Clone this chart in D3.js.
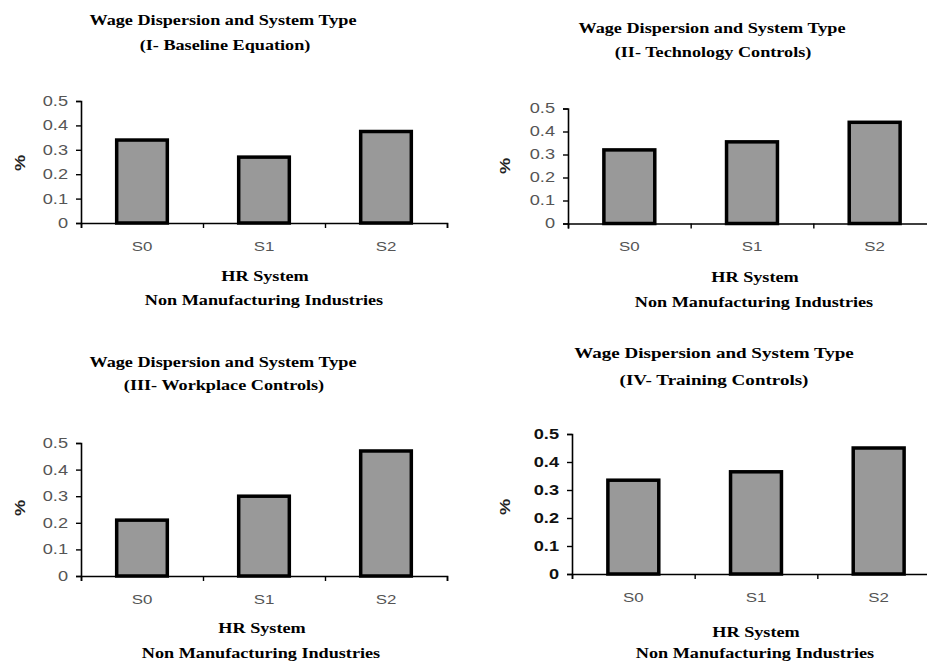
<!DOCTYPE html>
<html>
<head>
<meta charset="utf-8">
<script src="https://cdn.jsdelivr.net/npm/d3@7"></script>
<style>
  html, body { margin: 0; padding: 0; background: #fff; }
  svg { display: block; }
</style>
</head>
<body>
<svg id="chart" width="927" height="662"></svg>
<script>
// ---- data ----
const categories = ["S0", "S1", "S2"];
const valuesI   = [0.34, 0.27, 0.375];
const valuesII  = [0.32, 0.355, 0.44];
const valuesIII = [0.21, 0.30, 0.47];
const valuesIV  = [0.335, 0.365, 0.45];
const yTicks = [0, 0.1, 0.2, 0.3, 0.4, 0.5];
const titleMain = "Wage Dispersion and System Type";
const subtitles = ["(I- Baseline Equation)", "(II- Technology Controls)", "(III- Workplace Controls)", "(IV- Training Controls)"];
const xTitle1 = "HR System";
const xTitle2 = "Non Manufacturing Industries";
const yTitle = "%";

// ---- layout (positions only) ----
const panels = [
  { values: valuesI,   sub: subtitles[0], x0: 81,  x1: 447, yTop: 101,   yBot: 223,
    t1: [223, 20], t2: [225, 45], h1: [265, 276], h2: [264, 300], pc: [20, 163], boldTicks: false, tScale: 1.3 },
  { values: valuesII,  sub: subtitles[1], x0: 568, x1: 936, yTop: 108.5, yBot: 223.5,
    t1: [712, 28], t2: [713, 52], h1: [755, 277], h2: [754, 302], pc: [505, 166], boldTicks: false, tScale: 1.3 },
  { values: valuesIII, sub: subtitles[2], x0: 81,  x1: 447, yTop: 443,   yBot: 576,
    t1: [223, 362], t2: [224, 385], h1: [262, 628], h2: [261, 653], pc: [20, 508], boldTicks: false, tScale: 1.3 },
  { values: valuesIV,  sub: subtitles[3], x0: 572, x1: 940, yTop: 434,   yBot: 574,
    t1: [714, 353], t2: [714, 380], h1: [756, 632], h2: [755, 653], pc: [505, 507], boldTicks: true, tScale: 1.36 }
];

const STRETCH = 1.3;
const svg = d3.select("#chart");

function label(g, text, pos, opts) {
  const s = opts.stretch || STRETCH;
  const t = g.append("text")
    .attr("x", 0).attr("y", 0)
    .attr("dy", "0.35em")
    .attr("text-anchor", "middle")
    .attr("font-family", opts.family || "'Liberation Serif', 'Times New Roman', serif")
    .attr("font-weight", opts.weight || "bold")
    .attr("font-size", opts.size || 14)
    .attr("fill", opts.fill || "#000")
    .attr("transform", `translate(${pos[0]},${pos[1]})` + (opts.rotate ? " rotate(-90)" : "") + ` scale(${s},1)`)
    .text(text);
  return t;
}

panels.forEach(p => {
  const g = svg.append("g");
  const y = d3.scaleLinear().domain([0, 0.5]).range([p.yBot, p.yTop]);
  const x = d3.scaleBand().domain(categories).range([p.x0, p.x1])
    .paddingInner(0.585).paddingOuter(0.2925);
  const xb = d3.scaleLinear().domain([0, categories.length]).range([p.x0, p.x1]);

  // bars
  g.selectAll("rect.bar").data(p.values).join("rect")
    .attr("class", "bar")
    .attr("x", (d, i) => x(categories[i]))
    .attr("width", x.bandwidth())
    .attr("y", d => y(d))
    .attr("height", d => y(0) - y(d))
    .attr("fill", "#999999")
    .attr("stroke", "#000")
    .attr("stroke-width", 3.5);

  // y axis
  const ya = g.append("g")
    .attr("transform", `translate(${p.x0},0)`)
    .call(d3.axisLeft(y).tickValues(yTicks).tickSize(5).tickPadding(8)
      .tickFormat(d => d === 0 ? "0" : d3.format(".1f")(d)));
  ya.select(".domain").attr("stroke", "#000").attr("stroke-width", 1.6);
  ya.selectAll(".tick line").attr("stroke", "#000").attr("stroke-width", 1.4);
  ya.selectAll(".tick text")
    .attr("font-family", "'Liberation Sans', Arial, sans-serif")
    .attr("font-size", 14)
    .attr("font-weight", p.boldTicks ? "bold" : "normal")
    .attr("fill", p.boldTicks ? "#111" : "#555")
    .each(function () {
      const t = d3.select(this);
      const xv = +t.attr("x");
      t.attr("x", xv / STRETCH).attr("transform", `scale(${STRETCH},1)`);
    });

  // x axis boundary ticks
  const xa = g.append("g")
    .attr("transform", `translate(0,${p.yBot})`)
    .call(d3.axisBottom(xb).tickValues(d3.range(categories.length + 1)).tickSize(5).tickFormat(""));
  xa.select(".domain").attr("stroke", "#000").attr("stroke-width", 1.6);
  xa.selectAll(".tick line").attr("stroke", "#000").attr("stroke-width", 1.4);

  // x category labels
  const xl = g.append("g")
    .attr("transform", `translate(0,${p.yBot})`)
    .call(d3.axisBottom(x).tickSize(0).tickPadding(18.5));
  xl.select(".domain").remove();
  xl.selectAll(".tick text")
    .attr("font-family", "'Liberation Sans', Arial, sans-serif")
    .attr("font-size", 13)
    .attr("fill", "#555")
    .attr("transform", `scale(${STRETCH},1)`);

  // titles
  label(g, titleMain, p.t1, { stretch: p.tScale });
  label(g, p.sub, p.t2, { stretch: p.tScale });
  label(g, xTitle1, p.h1, {});
  label(g, xTitle2, p.h2, {});
  label(g, yTitle, p.pc, { family: "'Liberation Sans', Arial, sans-serif", size: 14, fill: "#222", rotate: true });
});
</script>
</body>
</html>
